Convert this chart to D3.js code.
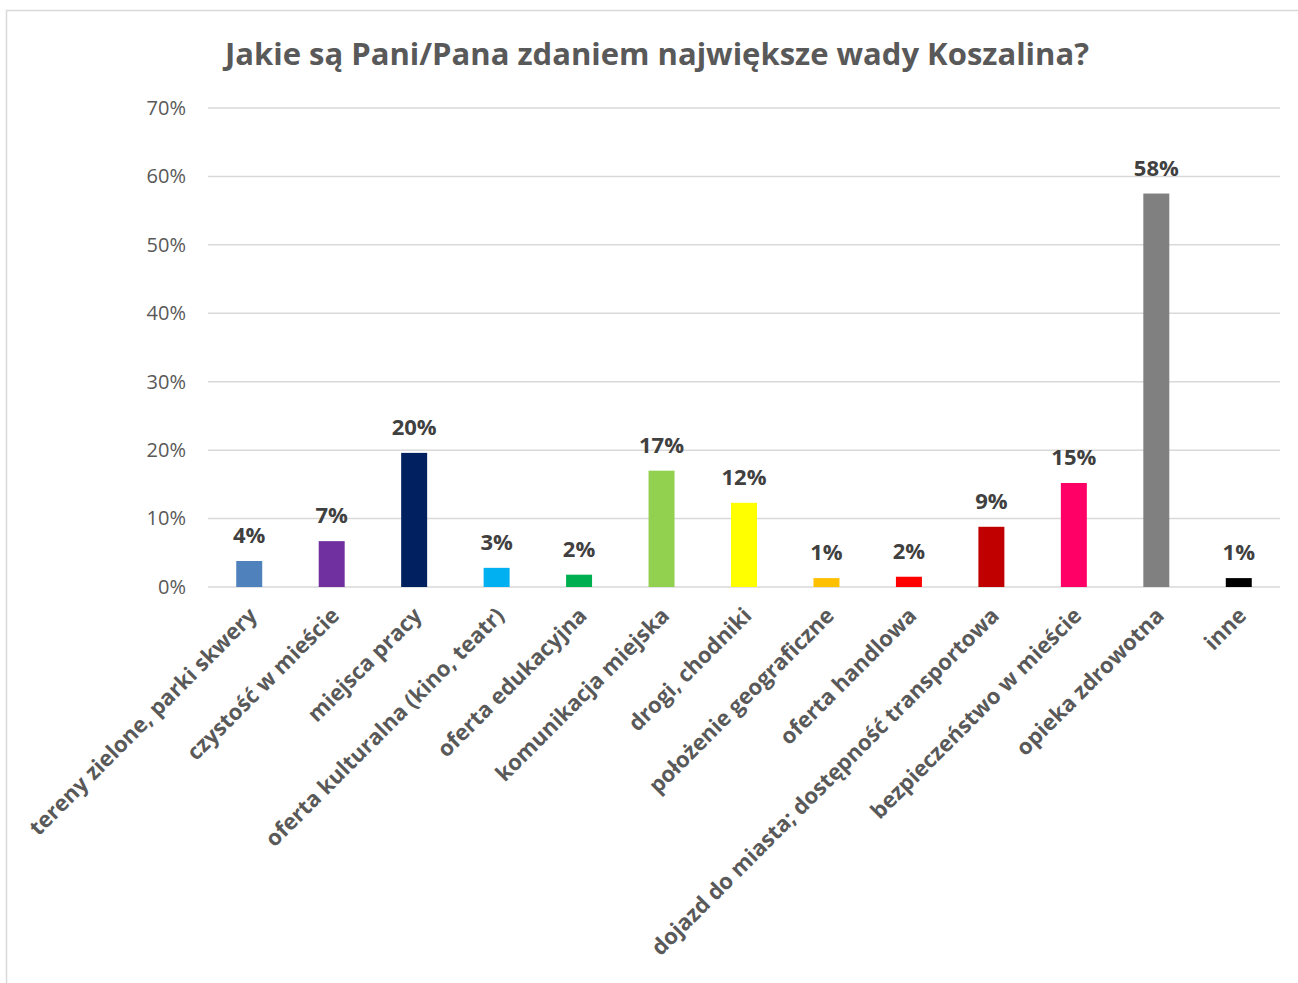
<!DOCTYPE html>
<html>
<head>
<meta charset="utf-8">
<script src="https://cdn.jsdelivr.net/npm/d3@7"></script>
<style>
  body { margin: 0; background: #fff; }
  svg { font-family: "Open Sans", sans-serif; }
</style>
</head>
<body>
<div id="chart"></div>
<script>
// chart data
const categories = [
  "tereny zielone, parki skwery",
  "czystość w mieście",
  "miejsca pracy",
  "oferta kulturalna (kino, teatr)",
  "oferta edukacyjna",
  "komunikacja miejska",
  "drogi, chodniki",
  "położenie geograficzne",
  "oferta handlowa",
  "dojazd do miasta; dostępność transportowa",
  "bezpieczeństwo w mieście",
  "opieka zdrowotna",
  "inne"
];
const values = [3.8, 6.7, 19.6, 2.8, 1.8, 17.0, 12.3, 1.3, 1.5, 8.8, 15.2, 57.5, 1.3];
const barColors = [
  "#4F81BD", "#7030A0", "#002060", "#00B0F0", "#00B050", "#92D050",
  "#FFFF00", "#FFC000", "#FF0000", "#C00000", "#FF0066", "#808080", "#000000"
];
const yTicks = [0, 10, 20, 30, 40, 50, 60, 70];
const title = "Jakie są Pani/Pana zdaniem największe wady Koszalina?";

const width = 1298, height = 983;
const margin = { top: 108, right: 18, bottom: 396, left: 208 };

const svg = d3.select("#chart").append("svg")
  .attr("width", width)
  .attr("height", height);

// outer frame
svg.append("rect")
  .attr("x", 6.5).attr("y", 10.5)
  .attr("width", 1300).attr("height", 1000)
  .attr("fill", "none")
  .attr("stroke", "#d9d9d9")
  .attr("stroke-width", 1.5);

svg.append("text")
  .attr("x", 657).attr("y", 65)
  .attr("text-anchor", "middle")
  .style("font-size", "31px")
  .style("font-weight", "bold")
  .style("fill", "#595959")
  .text(title);

const x = d3.scaleBand()
  .domain(categories)
  .range([margin.left, width - margin.right])
  .paddingInner(0.685)
  .paddingOuter(0.3425);

const y = d3.scaleLinear()
  .domain([0, 70])
  .range([height - margin.bottom, margin.top]);

// gridlines
svg.append("g")
  .selectAll("line")
  .data(yTicks)
  .join("line")
  .attr("x1", margin.left)
  .attr("x2", width - margin.right)
  .attr("y1", d => y(d))
  .attr("y2", d => y(d))
  .attr("stroke", "#d9d9d9")
  .attr("stroke-width", 1.5);

// y axis labels
const yAxis = d3.axisLeft(y)
  .tickValues(yTicks)
  .tickFormat(d => d + "%")
  .tickSize(0)
  .tickPadding(22);

svg.append("g")
  .attr("transform", `translate(${margin.left},0)`)
  .call(yAxis)
  .call(g => g.select(".domain").remove())
  .call(g => g.selectAll("text")
    .style("font-family", "'Open Sans', sans-serif")
    .style("font-size", "20px")
    .style("fill", "#595959"));

// bars
svg.append("g")
  .selectAll("rect")
  .data(values)
  .join("rect")
  .attr("x", (d, i) => x(categories[i]))
  .attr("y", d => y(d))
  .attr("width", x.bandwidth())
  .attr("height", d => y(0) - y(d))
  .attr("fill", (d, i) => barColors[i]);

// value labels
svg.append("g")
  .selectAll("text")
  .data(values)
  .join("text")
  .attr("x", (d, i) => x(categories[i]) + x.bandwidth() / 2)
  .attr("y", d => y(d) - 18)
  .attr("text-anchor", "middle")
  .style("font-size", "22px")
  .style("font-weight", "bold")
  .style("fill", "#404040")
  .text(d => Math.round(d) + "%");

// x axis labels, rotated
const xAxis = d3.axisBottom(x).tickSize(0).tickPadding(0);
svg.append("g")
  .attr("transform", `translate(0,${y(0)})`)
  .call(xAxis)
  .call(g => g.select(".domain").remove())
  .call(g => g.selectAll("text")
    .attr("text-anchor", "end")
    .attr("dy", 0)
    .attr("transform", "translate(9,30) rotate(-45)")
    .style("font-family", "'Open Sans', sans-serif")
    .style("font-size", "22px")
    .style("font-weight", "bold")
    .style("fill", "#595959"));
</script>
</body>
</html>
